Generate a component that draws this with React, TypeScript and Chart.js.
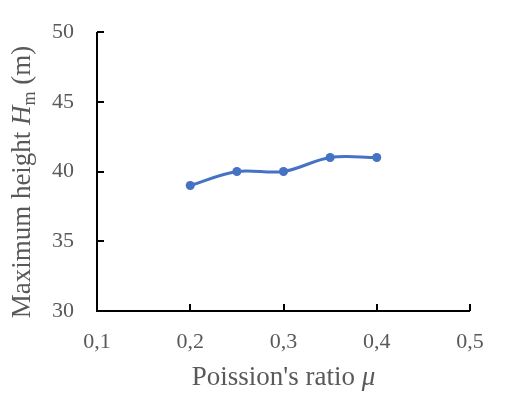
import React, { useEffect, useRef } from "react";
import { Chart, registerables } from "chart.js";

Chart.register(...registerables);

const poissonRatios = [0.2, 0.25, 0.3, 0.35, 0.4];
const maxHeights = [39, 40, 40, 41, 41];
const xTickValues = [0.1, 0.2, 0.3, 0.4, 0.5];
const yTickValues = [30, 35, 40, 45, 50];

const FONT = "'Liberation Serif', 'Times New Roman', serif";
const TEXT_COLOR = "#595959";

const customPlugin = {
  id: "customAxes",
  afterDraw(chart: any) {
    const { ctx, chartArea } = chart;
    const xs = chart.scales.x;
    const ys = chart.scales.y;
    ctx.save();
    ctx.strokeStyle = "#000";
    ctx.lineWidth = 2;
    // inward ticks
    xTickValues.forEach((v) => {
      const px = Math.round(xs.getPixelForValue(v));
      ctx.beginPath();
      ctx.moveTo(px, chartArea.bottom);
      ctx.lineTo(px, chartArea.bottom - 7);
      ctx.stroke();
    });
    yTickValues.forEach((v) => {
      const py = Math.round(ys.getPixelForValue(v));
      ctx.beginPath();
      ctx.moveTo(chartArea.left, py);
      ctx.lineTo(chartArea.left + 7, py);
      ctx.stroke();
    });
    // axis lines
    ctx.beginPath();
    ctx.moveTo(chartArea.left, chartArea.top);
    ctx.lineTo(chartArea.left, chartArea.bottom);
    ctx.lineTo(chartArea.right, chartArea.bottom);
    ctx.stroke();

    // x title
    ctx.fillStyle = TEXT_COLOR;
    ctx.textBaseline = "alphabetic";
    const xPart1 = "Poission's ratio ";
    const xPart2 = "\u03bc";
    ctx.font = `27px ${FONT}`;
    const w1 = ctx.measureText(xPart1).width;
    ctx.font = `italic 27px ${FONT}`;
    const w2 = ctx.measureText(xPart2).width;
    const cx = (chartArea.left + chartArea.right) / 2;
    const sx = cx - (w1 + w2) / 2;
    ctx.font = `27px ${FONT}`;
    ctx.textAlign = "left";
    ctx.fillText(xPart1, sx, 385);
    ctx.font = `italic 27px ${FONT}`;
    ctx.fillText(xPart2, sx + w1, 385);

    // y title (rotated)
    const parts: { t: string; f: string; dy: number }[] = [
      { t: "Maximum height ", f: `27px ${FONT}`, dy: 0 },
      { t: "H", f: `italic 27px ${FONT}`, dy: 0 },
      { t: "m", f: `18px ${FONT}`, dy: 5 },
      { t: " (m)", f: `27px ${FONT}`, dy: 0 },
    ];
    let total = 0;
    const widths = parts.map((p) => {
      ctx.font = p.f;
      const w = ctx.measureText(p.t).width;
      total += w;
      return w;
    });
    ctx.translate(30, 182);
    ctx.rotate(-Math.PI / 2);
    let ox = -total / 2;
    parts.forEach((p, i) => {
      ctx.font = p.f;
      ctx.fillText(p.t, ox, p.dy);
      ox += widths[i];
    });
    ctx.restore();
  },
};

export default function App() {
  const ref = useRef<HTMLCanvasElement | null>(null);
  useEffect(() => {
    document.body.style.margin = "0";
    const canvas = ref.current;
    if (!canvas) return;
    const chart = new Chart(canvas, {
      type: "line",
      data: {
        datasets: [
          {
            data: poissonRatios.map((x, i) => ({ x, y: maxHeights[i] })),
            borderColor: "#4472C4",
            backgroundColor: "#4472C4",
            borderWidth: 3,
            pointRadius: 4.5,
            pointBorderWidth: 0,
            tension: 0.35,
            fill: false,
          },
        ],
      },
      options: {
        animation: false,
        responsive: false,
        devicePixelRatio: 1,
        layout: { padding: { top: 32, right: 36, left: 0, bottom: 0 } },
        plugins: { legend: { display: false }, tooltip: { enabled: false } },
        scales: {
          x: {
            type: "linear",
            min: 0.1,
            max: 0.5,
            afterBuildTicks: (s: any) => {
              s.ticks = xTickValues.map((v) => ({ value: v }));
            },
            afterFit: (s: any) => {
              s.height = 87;
              s.paddingLeft = 0;
              s.paddingRight = 0;
            },
            grid: { display: false, drawTicks: false },
            border: { display: false },
            ticks: {
              padding: 18,
              color: TEXT_COLOR,
              font: { family: FONT, size: 22 },
              maxRotation: 0,
              callback: (v: any) => Number(v).toFixed(1).replace(".", ","),
            },
          },
          y: {
            min: 30,
            max: 50,
            afterBuildTicks: (s: any) => {
              s.ticks = yTickValues.map((v) => ({ value: v }));
            },
            afterFit: (s: any) => {
              s.width = 97;
              s.paddingTop = 0;
              s.paddingBottom = 0;
            },
            grid: { display: false, drawTicks: false },
            border: { display: false },
            ticks: {
              padding: 23,
              color: TEXT_COLOR,
              font: { family: FONT, size: 22 },
              callback: (v: any) => String(v),
            },
          },
        },
      },
      plugins: [customPlugin],
    });
    return () => chart.destroy();
  }, []);
  return <canvas ref={ref} width={506} height={398} style={{ display: "block" }} />;
}
